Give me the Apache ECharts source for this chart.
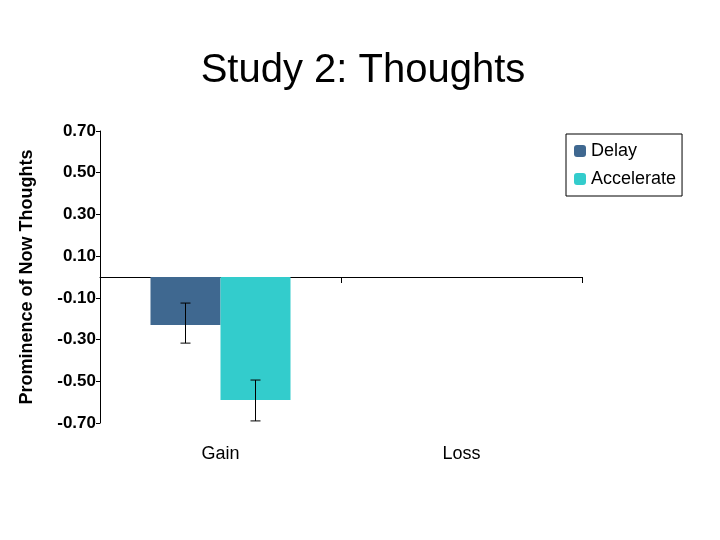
<!DOCTYPE html>
<html>
<head>
<meta charset="utf-8">
<script src="https://cdn.jsdelivr.net/npm/echarts@6/dist/echarts.min.js"></script>
<style>html,body{margin:0;padding:0;background:#fff}#chart{width:720px;height:540px}</style>
</head>
<body>
<div id="chart"></div>
<script>
// data
var categories = ['Gain', 'Loss'];
var delayValues = [-0.23, null];
var accelValues = [-0.59, null];
var delayErr = [[-0.125, -0.317], null];
var accelErr = [[-0.494, -0.69], null];

var chart = echarts.init(document.getElementById('chart'));
var font = 'Liberation Sans, Arial, sans-serif';

function errSeries(name, errs, shift) {
  return {
    name: name + ' err',
    type: 'custom',
    xAxisIndex: 0,
    z: 10,
    data: errs.map(function (e, i) { return e ? [i, e[0], e[1]] : [i, null, null]; }),
    renderItem: function (params, api) {
      if (api.value(1) == null || isNaN(api.value(1))) return;
      var hi = api.coord([api.value(0), api.value(1)]);
      var lo = api.coord([api.value(0), api.value(2)]);
      var x = hi[0] + shift, w = 5;
      var st = { stroke: '#000', lineWidth: 1 };
      return {
        type: 'group',
        children: [
          { type: 'line', shape: { x1: x, y1: hi[1], x2: x, y2: lo[1] }, style: st },
          { type: 'line', shape: { x1: x - w, y1: hi[1], x2: x + w, y2: hi[1] }, style: st },
          { type: 'line', shape: { x1: x - w, y1: lo[1], x2: x + w, y2: lo[1] }, style: st }
        ]
      };
    }
  };
}

var option = {
  title: {
    text: 'Study 2: Thoughts',
    left: 358, top: 46, textAlign: 'center',
    textStyle: { fontFamily: font, fontSize: 40, fontWeight: 'normal', color: '#000' }
  },
  legend: {
    data: ['Delay', 'Accelerate'],
    orient: 'vertical',
    left: 566, top: 134,
    itemWidth: 12, itemHeight: 12, itemGap: 10,
    padding: [8, 6, 8, 8],
    borderColor: '#000', borderWidth: 1,
    textStyle: { fontFamily: font, fontSize: 18, color: '#000' }
  },
  grid: { left: 100, right: 138, top: 131, bottom: 117 },
  xAxis: [{
    type: 'category',
    data: categories,
    axisLine: { onZero: true, lineStyle: { color: '#000', width: 1 } },
    axisTick: { show: true, length: 6, lineStyle: { color: '#000' } },
    axisLabel: { show: false }
  }, {
    type: 'category',
    data: categories,
    position: 'bottom',
    axisLine: { show: false },
    axisTick: { show: false },
    axisLabel: { margin: 22, fontFamily: font, fontSize: 18, color: '#000' }
  }],
  yAxis: {
    type: 'value',
    min: -0.7, max: 0.7, interval: 0.2,
    name: 'Prominence of Now Thoughts',
    nameLocation: 'middle', nameGap: 64,
    nameTextStyle: { fontFamily: font, fontSize: 18, fontWeight: 'bold', color: '#000' },
    axisLine: { show: true, lineStyle: { color: '#000' } },
    axisTick: { show: true, length: 4, lineStyle: { color: '#000' } },
    splitLine: { show: false },
    axisLabel: {
      fontFamily: font, fontSize: 17, fontWeight: 'bold', color: '#000', margin: 4,
      formatter: function (v) { return v.toFixed(2); }
    }
  },
  series: [{
    name: 'Delay', type: 'bar', data: delayValues,
    barWidth: 70, barGap: '0%',
    itemStyle: { color: '#3f6890' }
  }, {
    name: 'Accelerate', type: 'bar', data: accelValues,
    barWidth: 70,
    itemStyle: { color: '#33cccc' }
  },
  errSeries('Delay', delayErr, -35),
  errSeries('Accelerate', accelErr, 35)]
};
chart.setOption(option);
</script>
</body>
</html>
